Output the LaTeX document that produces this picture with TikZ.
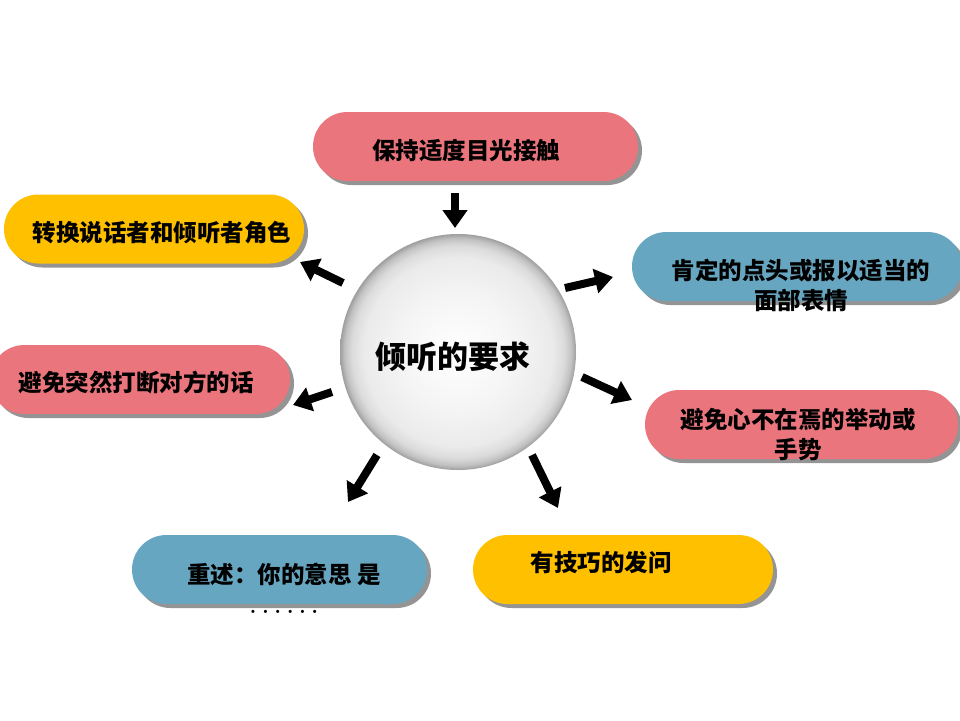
\documentclass[tikz,border=0pt]{standalone}
\usepackage{fontspec}
\setmainfont{Noto Sans CJK SC}
\usetikzlibrary{positioning,shapes.misc,shadows,arrows.meta}
\definecolor{boxpink}{RGB}{235,117,125}
\definecolor{boxgold}{RGB}{255,192,0}
\definecolor{boxblue}{RGB}{103,166,193}
\pgfdeclareradialshading{orb}{\pgfpoint{0bp}{0bp}}{color(0bp)=(white); color(12bp)=(white!96!black); color(20bp)=(white!92!black); color(22.5bp)=(white!86!black); color(24bp)=(white!76!black); color(25bp)=(white!62!black); color(50bp)=(white)}

\begin{document}
\begin{tikzpicture}[x=1pt,y=-1pt,
    pill/.style={rounded rectangle, minimum height=69pt, inner sep=0pt,
      drop shadow={shadow xshift=4pt, shadow yshift=-4pt, fill=white!58!black, opacity=1}},
    say/.style={font=\bfseries\fontsize{23.5}{30}\selectfont, align=center, inner sep=0pt},
    arr/.style={line width=8pt, -{Triangle[length=18pt,width=24pt]}}]
  \useasboundingbox[fill=white] (0,0) rectangle (960,720);
  % boxes round the centre
  \node[pill, fill=boxpink, minimum width=325pt] (eye) at (475.5,146.5) {};
  \node[pill, fill=boxgold, minimum width=300pt] (swap) at (154,229) {};
  \node[pill, fill=boxblue, minimum width=330pt] (nod) at (797,266.5) {};
  \node[pill, fill=boxpink, minimum width=300pt] (cut) at (140,379.5) {};
  \node[pill, fill=boxpink, minimum width=313pt] (focus) at (801.5,424.5) {};
  \node[pill, fill=boxblue, minimum width=295pt] (recap) at (279.5,569.5) {};
  \node[pill, fill=boxgold, minimum width=300pt] (ask) at (623,569.5) {};
  % texts
  \node[say] (eyeT) at (466,150) {保持适度目光接触};
  \node[say] (swapT) at (162,233) {转换说话者和倾听者角色};
  \node[say] (nodT) at (801,285) {肯定的点头或报以适当的\\面部表情};
  \node[say] (cutT) at (136,382) {避免突然打断对方的话};
  \node[say] (focusT) at (798,435) {避免心不在焉的举动或\\手势};
  \node[say] (recapT) at (284,588) {重述：你的意思 是\\{\ttfamily ......}};
  \node[say] (askT) at (601,562) {有技巧的发问};
  % centre
  \node[circle, shade, shading=orb, minimum size=236pt] (core) at (458,352) {};
  \node[say, font=\bfseries\fontsize{31}{36}\selectfont] (coreT) at (453,357) {倾听的要求};
  % arrows
  \coordinate (eyeA) at (455,193);
  \coordinate (eyeB) at (455,228);
  \coordinate (swapA) at (343,283);
  \coordinate (swapB) at (300,262);
  \coordinate (nodA) at (565,288);
  \coordinate (nodB) at (613,277);
  \coordinate (cutA) at (332,392);
  \coordinate (cutB) at (293,405);
  \coordinate (focusA) at (582,377);
  \coordinate (focusB) at (632,400);
  \coordinate (recapA) at (377,455);
  \coordinate (recapB) at (348,502);
  \coordinate (askA) at (532,455);
  \coordinate (askB) at (558,508);
  \draw[arr] (eyeA) -- (eyeB);
  \draw[arr] (swapA) -- (swapB);
  \draw[arr] (nodA) -- (nodB);
  \draw[arr] (cutA) -- (cutB);
  \draw[arr] (focusA) -- (focusB);
  \draw[arr] (recapA) -- (recapB);
  \draw[arr] (askA) -- (askB);
\end{tikzpicture}
\end{document}
